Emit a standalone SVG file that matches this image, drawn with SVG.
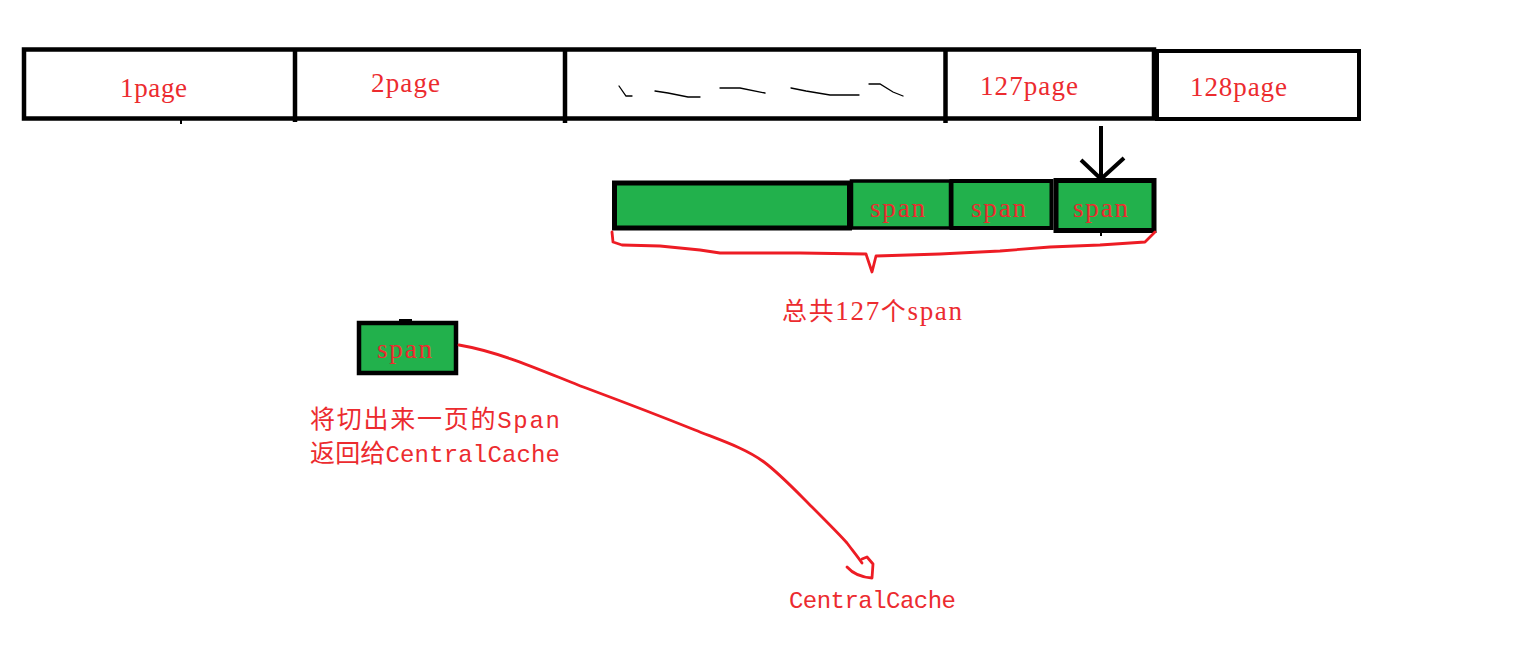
<svg xmlns="http://www.w3.org/2000/svg" width="1529" height="658" viewBox="0 0 1529 658">
<style>
.box{fill:none;stroke:#000;stroke-width:4.5}
.g{fill:#22b14c;stroke:#000}
.lbl{fill:#ec2b2f;font-family:"Liberation Serif",serif;font-size:27px}
.cn{fill:#ec2b2f;font-family:"Liberation Mono","Noto Sans CJK SC",monospace;font-size:24px}
.h{font-family:"Noto Sans CJK SC",sans-serif;font-size:25px}
.red{fill:none;stroke:#ed1c24;stroke-width:2.8;stroke-linejoin:round;stroke-linecap:round}
.sq{fill:none;stroke:#000;stroke-width:1.3;stroke-linecap:round}
</style>
<rect width="1529" height="658" fill="#fff"/>
<g id="pages">
  <rect class="box" x="24" y="49.5" width="1130" height="69"/>
  <line class="box" x1="295" y1="49" x2="295" y2="122"/>
  <line class="box" x1="565" y1="49" x2="565" y2="123"/>
  <line class="box" x1="945.5" y1="49" x2="945.5" y2="123"/>
  <line stroke="#000" stroke-width="2" x1="181" y1="119" x2="181" y2="124"/>
  <text class="lbl" x="120" y="97" textLength="67" lengthAdjust="spacing">1page</text>
  <text class="lbl" x="371" y="92" textLength="69" lengthAdjust="spacing">2page</text>
  <path class="sq" d="M619,86 L626,96 L632,96"/>
  <path class="sq" d="M655,91 L668,93 L688,97 L700,97"/>
  <path class="sq" d="M720,88 L740,88 L765,93"/>
  <path class="sq" d="M791,88 L806,91 L830,95 L859,95"/>
  <path class="sq" d="M869,84 L880,84 L893,92 L903,96"/>
  <text class="lbl" x="980" y="95" textLength="98" lengthAdjust="spacing">127page</text>
</g>
<g id="page128">
  <rect class="box" x="1157" y="51" width="202" height="68" style="stroke-width:4"/>
  <text class="lbl" x="1190" y="96" textLength="97" lengthAdjust="spacing">128page</text>
</g>
<g id="spans">
  <rect class="g" x="614.5" y="183" width="235" height="45" stroke-width="5"/>
  <rect class="g" x="851.5" y="181" width="99" height="47" stroke-width="3.5"/>
  <text class="lbl" x="870" y="217" textLength="55" lengthAdjust="spacing">span</text>
  <rect class="g" x="951.5" y="181" width="100" height="47" stroke-width="4"/>
  <text class="lbl" x="971" y="217" textLength="55" lengthAdjust="spacing">span</text>
  <rect class="g" x="1056" y="180.5" width="98" height="50" stroke-width="5"/>
  <text class="lbl" x="1073" y="217" textLength="55" lengthAdjust="spacing">span</text>
  <line stroke="#000" stroke-width="2" x1="1101" y1="233" x2="1101" y2="236"/>
</g>
<g id="brace">
  <path class="red" d="M612,232 L613,242 L622,245 L660,246 L700,250 L720,253 L800,253 L866,254 L872,272 L876,256 L940,254 L1000,251 L1050,247 L1100,245 L1145,242 L1155,232"/>
  <text class="cn" x="782" y="320" textLength="180" lengthAdjust="spacing"><tspan class="h">总共</tspan><tspan font-family="Liberation Serif, serif" font-size="27">127</tspan><tspan class="h">个</tspan><tspan font-family="Liberation Serif, serif" font-size="27">span</tspan></text>
</g>
<g id="span-out">
  <rect class="g" x="359" y="323" width="97" height="50" stroke-width="4.5"/>
  <rect x="399" y="319" width="13" height="3" fill="#000"/>
  <text class="lbl" x="377" y="358" textLength="55" lengthAdjust="spacing">span</text>
  <text class="cn" x="310" y="428" textLength="250" lengthAdjust="spacing"><tspan class="h">将切出来一页的</tspan>Span</text>
  <text class="cn" x="310" y="462" textLength="250" lengthAdjust="spacing"><tspan class="h">返回给</tspan>CentralCache</text>
</g>
<g id="connectors">
  <line stroke="#000" stroke-width="4" x1="1101" y1="126" x2="1101" y2="179"/>
  <path d="M1081,160 L1101,179 L1124,158" fill="none" stroke="#000" stroke-width="4"/>
  <path class="red" d="M459,345 C500,352 540,370 578,385 C610,397 640,408 695,430 C720,440 745,448 764,462 C780,474 795,490 812,507 C825,520 840,535 847,543 C853,551 858,557 862,563"/>
  <path class="red" d="M847,567 Q856,577 872,578 L873,564 L867,557 L862,559"/>
</g>
<g id="centralcache">
  <text class="cn" x="789" y="608" textLength="167" lengthAdjust="spacing">CentralCache</text>
</g>
</svg>
